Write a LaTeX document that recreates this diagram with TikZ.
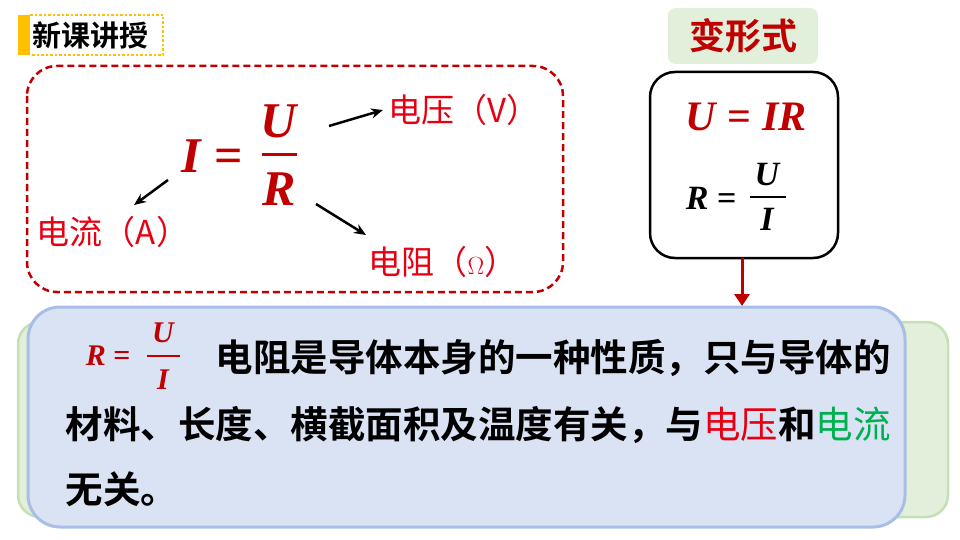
\documentclass[tikz,border=0pt]{standalone}
\usepackage{fontspec}
\newfontfamily\cjk{Noto Sans CJK SC}
\newfontfamily\cjkb{Noto Sans CJK SC Bold}
\setmainfont{Liberation Serif}
\usetikzlibrary{arrows.meta}
\definecolor{dred}{RGB}{192,0,0}
\definecolor{bred}{RGB}{230,0,18}
\definecolor{gfill}{RGB}{226,239,218}
\definecolor{gline}{RGB}{197,224,180}
\definecolor{bfill}{RGB}{218,227,243}
\definecolor{bline}{RGB}{168,190,230}
\definecolor{gtxt}{RGB}{0,176,80}
\definecolor{yelcol}{RGB}{255,192,0}
\tikzset{x=1pt,y=-1pt,
 lbl/.style={text=bred,font=\cjk\fontsize{33}{36}\selectfont},
 arr/.style={-{Stealth[length=12pt,width=10pt]},line width=2.5pt},
 big/.style={text=dred,font=\bfseries\itshape\fontsize{50}{52}\selectfont},
 body/.style={anchor=west,font=\cjkb\fontsize{37.5}{40}\selectfont}}
\begin{document}
\begin{tikzpicture}
\useasboundingbox (0,0) rectangle (960,540);
% title
\fill[yelcol] (18,15) rectangle (30,55);
\draw[yelcol,line width=2.5pt,dotted] (30,15) -- (163,15) -- (163,55) -- (30,55);
\node[font=\cjkb\fontsize{29}{32}\selectfont,anchor=west] (title) at (29,35) {新课讲授};
% dashed box
\draw[dred,line width=2.5pt,dash pattern=on 7pt off 4pt,rounded corners=30pt] (27,66) rectangle (563,292);
\node[big] (I) at (212,156) {I \textup{=}};
\node[big] (U) at (279,121) {U};
\node[big] (R) at (279,189) {R};
\draw[dred,line width=3pt] (262,155) -- (297,155);
\node[lbl] (V) at (464,110) {电压（V）};
\node[lbl] (A) at (113,232) {电流（A）};
\node[lbl] (O) at (443,262) {电阻（$\Omega$）};
\draw[arr] (329,126) -- (383,110);
\draw[arr] (168,180) -- (134,205);
\draw[arr] (316,204) -- (366,235);
% variants
\node[fill=gfill,rounded corners=8pt,minimum width=150pt,minimum height=56pt,text=dred,font=\cjkb\fontsize{36}{40}\selectfont] (bx) at (743,36) {变形式};
\draw[line width=2.5pt,rounded corners=25pt] (650,72) rectangle (838,258);
\node[text=dred,font=\bfseries\itshape\fontsize{42}{44}\selectfont] (b1) at (746,117) {U \textup{=} IR};
\node[font=\bfseries\itshape\fontsize{34}{36}\selectfont,anchor=east] (b2) at (740,198) {R \textup{=}};
\node[font=\bfseries\itshape\fontsize{34}{36}\selectfont] (b3) at (767,175) {U};
\node[font=\bfseries\itshape\fontsize{34}{36}\selectfont] (b4) at (767,219) {I};
\draw[line width=2pt] (750,197) -- (786,197);
\coordinate (ar1) at (742,258);
\coordinate (ar2) at (742,306);
\draw[dred,line width=3pt,-{Triangle[length=12pt,width=15pt]}] (ar1) -- (ar2);
% boxes
\draw[gline,fill=gfill,line width=2.5pt,rounded corners=22pt] (18,322) rectangle (948,517);
\node[body] (t2b) at (62,425) {\phantom{材料、长度、横截面积及温度有关，与电压和电流}，};
\draw[bline,fill=bfill,line width=3pt,rounded corners=32pt] (28,307) rectangle (905,527);
\node[text=dred,font=\bfseries\itshape\fontsize{30}{32}\selectfont,anchor=east] (f1) at (134,356) {R \textup{=}};
\node[text=dred,font=\bfseries\itshape\fontsize{30}{32}\selectfont] (f2) at (163,333) {U};
\node[text=dred,font=\bfseries\itshape\fontsize{30}{32}\selectfont] (f3) at (163,380) {I};
\draw[dred,line width=2pt] (147,356) -- (180,356);
\node[body] (t1) at (212,358) {电阻是导体本身的一种性质，只与导体的};
\node[body] (t2) at (62,425) {材料、长度、横截面积及温度有关，与\textcolor{bred}{\cjk 电压}和\textcolor{gtxt}{\cjk 电流}};
\node[body] (t3) at (62,489) {无关。};
\end{tikzpicture}
\end{document}
